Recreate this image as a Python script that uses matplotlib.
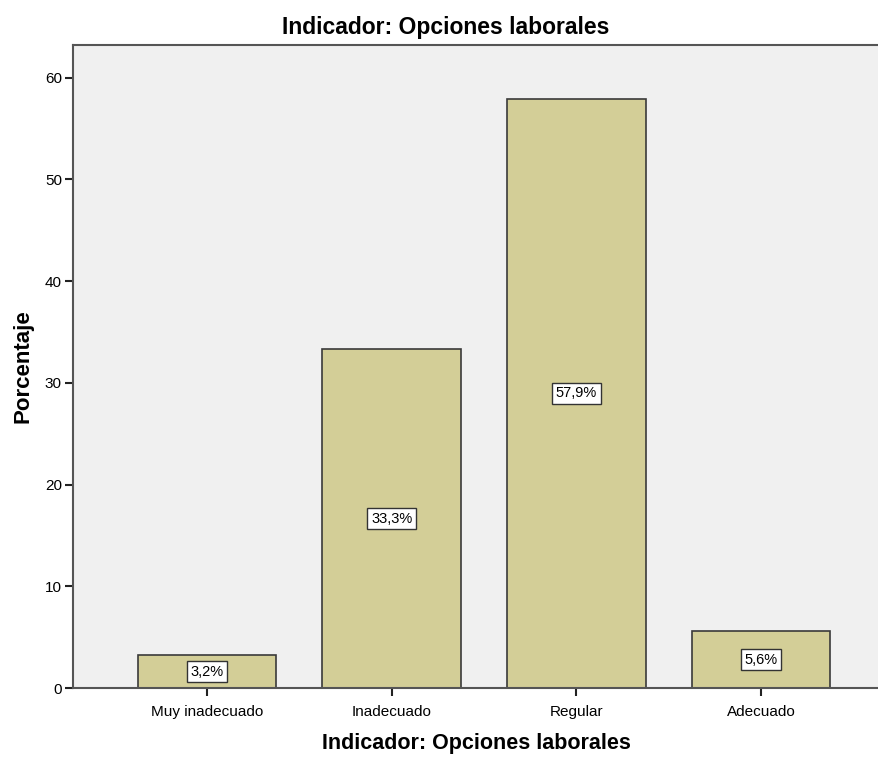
import matplotlib.pyplot as plt

categorias = ['Muy inadecuado', 'Inadecuado', 'Regular', 'Adecuado']
porcentajes = [3.2, 33.3, 57.9, 5.6]
etiquetas = ['3,2%', '33,3%', '57,9%', '5,6%']
yticks = [0, 10, 20, 30, 40, 50, 60]

plt.rcParams['font.family'] = ['Liberation Sans', 'DejaVu Sans']

fig = plt.figure(figsize=(8.79, 7.60), dpi=100)
ax = fig.add_axes([73 / 879, 72 / 760, 1 - 73 / 879, (688 - 45) / 760])
ax.set_facecolor('#f0f0f0')

x = range(len(categorias))
ax.bar(x, porcentajes, width=0.75, color='#d3ce97', edgecolor='#3a3a3a', linewidth=1.2, zorder=2)

for xi, v, t in zip(x, porcentajes, etiquetas):
    ax.text(xi, v / 2, t, ha='center', va='center', fontsize=10.5, zorder=3,
            bbox=dict(boxstyle='square,pad=0.25', fc='white', ec='#333333', lw=1))

ax.set_xlim(-0.7255, 3.638)
ax.set_ylim(0, 63.2)
ax.set_yticks(yticks)
ax.set_xticks(list(x))
ax.set_xticklabels(categorias, fontsize=11)
ax.tick_params(axis='y', labelsize=11, length=6, width=1.5, color='#222222', pad=2)
ax.tick_params(axis='x', length=6, width=1.5, color='#222222', pad=6)

ax.spines['right'].set_visible(False)
for s in ['left', 'bottom', 'top']:
    ax.spines[s].set_color('#555555')
    ax.spines[s].set_linewidth(1.5)

# titulo centrado en la figura, no en los ejes
ax.set_title('Indicador: Opciones laborales', fontsize=16.5, fontweight='bold', pad=8, x=0.463)
ax.set_xlabel('Indicador: Opciones laborales', fontsize=15.5, fontweight='bold', labelpad=10)
ax.set_ylabel('Porcentaje', fontsize=16, fontweight='bold', labelpad=8)

fig.savefig('out.png', dpi=100)
